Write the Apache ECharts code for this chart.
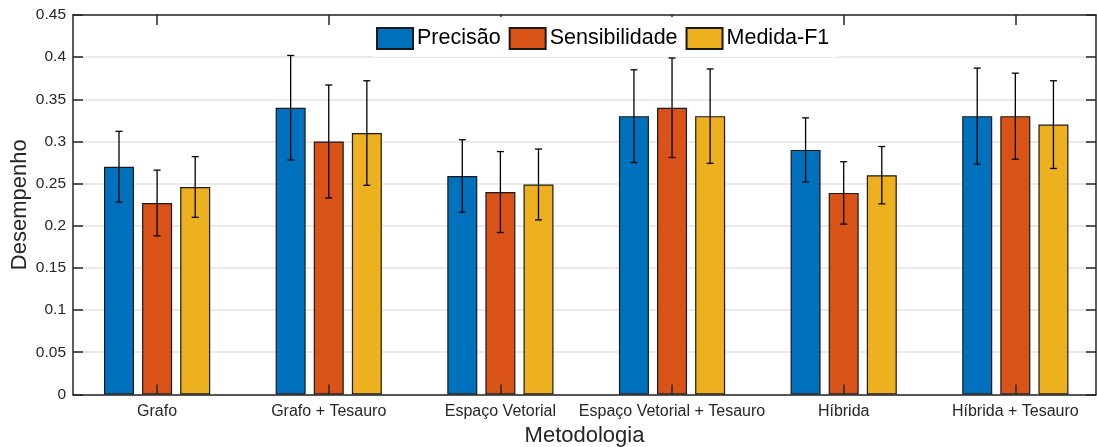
<!DOCTYPE html>
<html>
<head>
<meta charset="utf-8">
<script src="https://cdn.jsdelivr.net/npm/echarts@6/dist/echarts.min.js"></script>
<style>
  html, body { margin: 0; padding: 0; background: #fff; overflow: hidden; }
  #main { width: 1097px; height: 447px; }
</style>
</head>
<body>
<div id="main"></div>
<script>
var categories = ['Grafo', 'Grafo + Tesauro', 'Espaço Vetorial', 'Espaço Vetorial + Tesauro', 'Híbrida', 'Híbrida + Tesauro'];
var seriesNames = ['Precisão', 'Sensibilidade', 'Medida-F1'];
var precisao = [0.27, 0.34, 0.259, 0.33, 0.29, 0.33];
var sensibilidade = [0.227, 0.30, 0.24, 0.34, 0.239, 0.33];
var medidaF1 = [0.246, 0.31, 0.249, 0.33, 0.26, 0.32];
// half-width of the error bars
var errPrecisao = [0.042, 0.062, 0.043, 0.055, 0.038, 0.057];
var errSensibilidade = [0.039, 0.067, 0.048, 0.059, 0.037, 0.051];
var errMedidaF1 = [0.036, 0.062, 0.042, 0.056, 0.034, 0.052];

var colors = ['#0072BD', '#D95319', '#EDB120'];
var values = [precisao, sensibilidade, medidaF1];
var errors = [errPrecisao, errSensibilidade, errMedidaF1];
var offsets = [-38.1, 0, 38.1]; // px, matches bar layout below
var catIdx = categories.map(function (c, i) { return i; });

var chart = echarts.init(document.getElementById('main'), null, { renderer: 'canvas' });

function errRenderer(dx) {
  return function (params, api) {
    var x = api.value(0), v = api.value(1), e = api.value(2);
    var top = api.coord([x, v + e]);
    var bot = api.coord([x, v - e]);
    var cx = top[0] + dx;
    var style = { stroke: '#000', lineWidth: 1.3 };
    return {
      type: 'group',
      children: [
        { type: 'line', shape: { x1: cx, y1: top[1], x2: cx, y2: bot[1] }, style: style },
        { type: 'line', shape: { x1: cx - 3.5, y1: top[1], x2: cx + 3.5, y2: top[1] }, style: style },
        { type: 'line', shape: { x1: cx - 3.5, y1: bot[1], x2: cx + 3.5, y2: bot[1] }, style: style }
      ]
    };
  };
}

var series = [];
values.forEach(function (vals, s) {
  series.push({
    name: seriesNames[s],
    type: 'bar',
    xAxisIndex: 0,
    yAxisIndex: 0,
    barWidth: 30,
    barGap: '27%',
    itemStyle: { color: colors[s], borderColor: '#1a1a1a', borderWidth: 1.2 },
    data: vals.map(function (v, i) { return [i, v]; })
  });
});
values.forEach(function (vals, s) {
  series.push({
    name: 'err' + s,
    type: 'custom',
    xAxisIndex: 0,
    yAxisIndex: 0,
    z: 5,
    clip: false,
    renderItem: errRenderer(offsets[s]),
    encode: { x: 0, y: [1] },
    data: vals.map(function (v, i) { return [i, v, errors[s][i]]; })
  });
});

var axisCol = '#262626';
var lineStyle = { color: axisCol, width: 1.5 };
var option = {
  animation: false,
  textStyle: { fontFamily: 'Liberation Sans, Arial, sans-serif' },
  grid: { left: 73, right: 1, top: 15, bottom: 52.6, outerBoundsMode: 'none' },
  legend: {
    data: seriesNames,
    left: 373,
    top: 17,
    padding: [10, 8, 7, 3],
    backgroundColor: '#fff',
    itemWidth: 36,
    itemHeight: 21,
    itemGap: 8,
    icon: 'rect',
    textStyle: { fontSize: 21.5, color: '#000', padding: [0, 0, 0, -1] }
  },
  xAxis: [{
    type: 'value',
    position: 'bottom',
    z: 3,
    min: -0.49,
    max: 5.47,
    name: 'Metodologia',
    nameLocation: 'middle',
    nameGap: 31,
    nameMoveOverlap: false,
    nameTextStyle: { fontSize: 22, color: axisCol },
    axisLine: { show: true, onZero: false, lineStyle: lineStyle },
    axisTick: { show: true, inside: true, length: 10, customValues: catIdx, lineStyle: lineStyle },
    axisLabel: {
      customValues: catIdx,
      margin: 9.5,
      fontSize: 16,
      color: axisCol,
      formatter: function (v) { return categories[Math.round(v)]; }
    },
    splitLine: { show: false }
  }, {
    type: 'value',
    position: 'top',
    min: -0.49,
    max: 5.47,
    axisLine: { show: true, onZero: false, lineStyle: lineStyle },
    axisTick: { show: true, inside: true, length: 10, customValues: catIdx, lineStyle: lineStyle },
    axisLabel: { show: false },
    splitLine: { show: false }
  }],
  yAxis: [{
    type: 'value',
    position: 'left',
    min: 0,
    max: 0.45,
    interval: 0.05,
    name: 'Desempenho',
    nameLocation: 'middle',
    nameGap: 42,
    nameMoveOverlap: false,
    nameTextStyle: { fontSize: 22, color: axisCol },
    axisLine: { show: true, onZero: false, lineStyle: lineStyle },
    axisTick: { show: true, inside: true, length: 10, lineStyle: lineStyle },
    axisLabel: { fontSize: 15.5, color: axisCol, margin: 7 },
    splitLine: { show: true, lineStyle: { color: '#e3e3e3', width: 1.5 } }
  }, {
    type: 'value',
    position: 'right',
    z: 3,
    min: 0,
    max: 0.45,
    interval: 0.05,
    axisLine: { show: true, onZero: false, lineStyle: lineStyle },
    axisTick: { show: true, inside: true, length: 10, lineStyle: lineStyle },
    axisLabel: { show: false },
    splitLine: { show: false }
  }],
  series: series
};

chart.setOption(option);
</script>
</body>
</html>
